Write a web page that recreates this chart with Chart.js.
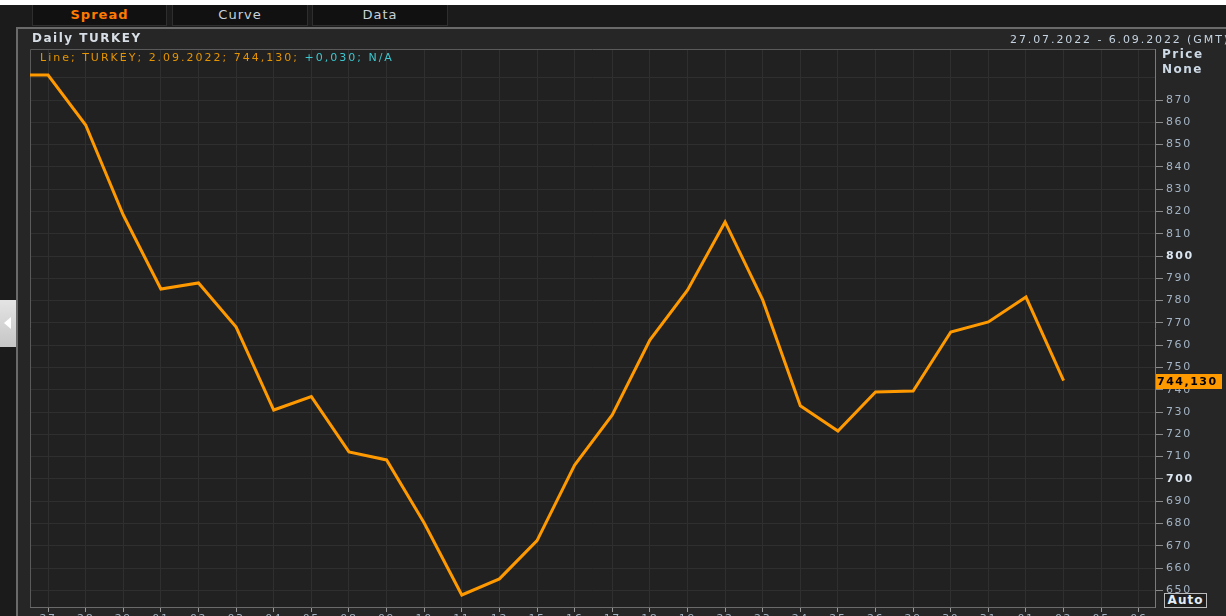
<!DOCTYPE html>
<html lang="en">
<head>
    <meta charset="UTF-8">
    <title>Daily TURKEY</title>
    <style>
        body {
            margin: 0;
            width: 1226px;
            height: 616px;
            overflow: hidden;
            position: relative;
            background-color: #1b1b1b;
            font-family: "DejaVu Sans", Verdana, sans-serif;
        }

        .topline { position: absolute; left: 0; top: 0; width: 1226px; height: 5px; background: #fff; }

        .tab {
            position: absolute;
            top: 5px;
            height: 21px;
            box-sizing: border-box;
            background: #111;
            border: 1px solid #2e2e2e;
            border-top: none;
            color: #c9d2da;
            font-size: 13px;
            letter-spacing: 1px;
            line-height: 20px;
            text-align: center;
        }
        .tab.active { color: #ff7a00; font-weight: bold; }

        .panel {
            position: absolute;
            left: 16px;
            top: 27px;
            width: 1230px;
            height: 620px;
            box-sizing: border-box;
            background: #262626;
            border-top: 2px solid #6a6a6a;
            border-left: 2px solid #6a6a6a;
        }

        .collapse {
            position: absolute;
            left: 0;
            top: 300px;
            width: 16px;
            height: 47px;
            background: linear-gradient(#e4e4e4, #c6c6c6);
        }
        .collapse::after {
            content: "";
            position: absolute;
            left: 4px;
            top: 17px;
            border-right: 7px solid #fff;
            border-top: 6px solid transparent;
            border-bottom: 6px solid transparent;
        }

        #chart { position: absolute; left: 0; top: 0; z-index: 1; }

        .txt {
            position: absolute;
            z-index: 2;
            font-size: 11px;
            letter-spacing: 2px;
            white-space: nowrap;
            line-height: 13px;
        }
        .title { left: 32px; top: 32px; font-size: 12px; font-weight: bold; color: #d6dde4; letter-spacing: 1.5px; }
        .legend { left: 40px; top: 51px; color: #e59400; }
        .legend span { color: #3cc8d0; }
        .range { left: 1010px; top: 33px; color: #c5d3e0; letter-spacing: 1.9px; }
        .axisname { left: 1162px; font-size: 12px; font-weight: bold; color: #cdd9e5; letter-spacing: 1.5px; }
        .auto {
            left: 1164px;
            top: 593px;
            width: 43px;
            height: 15px;
            box-sizing: border-box;
            border: 1px solid #bbb;
            background: #1e1e1e;
            color: #e4ecf4;
            font-size: 12px;
            font-weight: bold;
            letter-spacing: 1px;
            line-height: 13px;
            text-align: center;
        }
    </style>
    <script src="https://cdn.jsdelivr.net/npm/chart.js"></script>
</head>
<body>
    <div class="topline"></div>
    <div class="tab active" style="left:32px; width:135px;">Spread</div>
    <div class="tab" style="left:172px; width:136px;">Curve</div>
    <div class="tab" style="left:312px; width:136px;">Data</div>

    <div class="panel"></div>
    <div class="collapse"></div>

    <canvas id="chart" width="1226" height="630"></canvas>

    <div class="txt title">Daily TURKEY</div>
    <div class="txt legend" id="legend"></div>
    <div class="txt range">27.07.2022 - 6.09.2022 (GMT)</div>
    <div class="txt axisname" style="top:48px;">Price</div>
    <div class="txt axisname" style="top:63px;">None</div>
    <div class="txt auto">Auto</div>

    <script>
        // business days 27.07.2022 - 6.09.2022
        const dayLabels = ['27', '28', '29', '01', '02', '03', '04', '05', '08', '09', '10', '11', '12', '15', '16',
            '17', '18', '19', '22', '23', '24', '25', '26', '29', '30', '31', '01', '02', '05', '06'];
        // TURKEY spread, one value per day up to 2.09.2022
        const prices = [881.2, 858.8, 818.4, 785.2, 787.9, 768.1, 730.9, 736.9, 712.1, 708.5, 680.2, 647.9, 655.1, 672.3,
            706.2, 728.7, 762.3, 784.7, 815.3, 780.3, 732.8, 721.5, 739.0, 739.4, 765.9, 770.4, 781.6, 744.13];
        const prevClose = 881.2;   // 26.07, runs off the left edge
        const lastDate = '2.09.2022';
        const lastChange = '+0,030';
        const boldTicks = [700, 800];
        const maxLabelled = 870;

        const fmt = v => v.toFixed(3).replace('.', ',');
        const lastPrice = prices[prices.length - 1];

        document.getElementById('legend').innerHTML =
            'Line; TURKEY; ' + lastDate + '; ' + fmt(lastPrice) + '; <span>' + lastChange + '; N/A</span>';

        const points = [{ x: -1, y: prevClose }].concat(prices.map((v, i) => ({ x: i, y: v })));

        const isBold = ctx => !!ctx.tick && boldTicks.includes(ctx.tick.value);

        // canvas text spacing, reset whenever the canvas is resized
        const spacing = {
            id: 'spacing',
            beforeUpdate(chart) { chart.ctx.letterSpacing = '1.6px'; },
            beforeDraw(chart) { chart.ctx.letterSpacing = '1.6px'; }
        };

        const plotBg = {
            id: 'plotBg',
            beforeDraw(chart) {
                const { ctx, chartArea: a } = chart;
                ctx.save();
                ctx.fillStyle = '#212121';
                ctx.fillRect(a.left, a.top, a.right - a.left, a.bottom - a.top);
                ctx.restore();
            },
            beforeDatasetsDraw(chart) {
                const { ctx, chartArea: a } = chart;
                ctx.save();
                ctx.strokeStyle = '#5a5a5a';
                ctx.lineWidth = 1;
                ctx.beginPath();
                ctx.moveTo(a.left + 0.5, a.bottom);
                ctx.lineTo(a.left + 0.5, a.top + 0.5);
                ctx.lineTo(a.right, a.top + 0.5);
                ctx.stroke();
                ctx.restore();
            }
        };

        const priceTag = {
            id: 'priceTag',
            afterDraw(chart) {
                const { ctx, chartArea, scales } = chart;
                const y = Math.round(scales.y.getPixelForValue(lastPrice));
                ctx.save();
                ctx.fillStyle = '#ff9900';
                ctx.fillRect(chartArea.right + 1, y - 7, 66, 15);
                ctx.fillStyle = '#000';
                ctx.font = 'bold 11px "DejaVu Sans"';
                ctx.letterSpacing = '1.5px';
                ctx.textBaseline = 'middle';
                ctx.fillText(fmt(lastPrice), chartArea.right + 2, y + 1);
                ctx.restore();
            }
        };

        new Chart(document.getElementById('chart'), {
            type: 'line',
            data: {
                datasets: [{
                    label: 'TURKEY',
                    data: points,
                    borderColor: '#ff9900',
                    borderWidth: 3,
                    pointRadius: 0,
                    tension: 0,
                    clip: 0
                }]
            },
            options: {
                responsive: false,
                animation: false,
                layout: { padding: { left: 30, top: 49, right: 0, bottom: 5 } },
                plugins: {
                    legend: { display: false },
                    tooltip: { enabled: false }
                },
                scales: {
                    x: {
                        type: 'linear',
                        min: -0.48,
                        max: 29.43,
                        afterFit(scale) { scale.height = 18; },
                        // one tick per trading day
                        afterBuildTicks(scale) {
                            scale.ticks = dayLabels.map((_, i) => ({ value: i }));
                        },
                        border: { color: '#6a6a6a' },
                        grid: { color: '#2f2f2f', tickColor: '#9a9a9a', tickLength: 5 },
                        ticks: {
                            stepSize: 1,
                            autoSkip: false,
                            maxRotation: 0,
                            padding: 1,
                            color: '#a3b3c3',
                            font: { family: 'DejaVu Sans', size: 11 },
                            callback: v => dayLabels[v] || ''
                        }
                    },
                    y: {
                        position: 'right',
                        min: 642.5,
                        max: 892.9,
                        afterFit(scale) { scale.width = 71; },
                        afterBuildTicks(scale) {
                            scale.ticks = scale.ticks.filter(t => Math.abs(t.value / 10 - Math.round(t.value / 10)) < 1e-6);
                        },
                        border: { color: '#7a7a7a' },
                        grid: {
                            color: '#2f2f2f',
                            tickLength: 8,
                            tickColor: ctx => ctx.tick && ctx.tick.value > maxLabelled ? 'transparent' : '#8a8a8a'
                        },
                        ticks: {
                            stepSize: 10,
                            autoSkip: false,
                            padding: 3,
                            color: ctx => isBold(ctx) ? '#dbe6f0' : '#a3b3c3',
                            font: ctx => ({
                                family: 'DejaVu Sans',
                                size: 11,
                                weight: isBold(ctx) ? 'bold' : 'normal'
                            }),
                            callback: v => v > maxLabelled ? '' : String(Math.round(v))
                        }
                    }
                }
            },
            plugins: [spacing, plotBg, priceTag]
        });
    </script>
</body>
</html>
